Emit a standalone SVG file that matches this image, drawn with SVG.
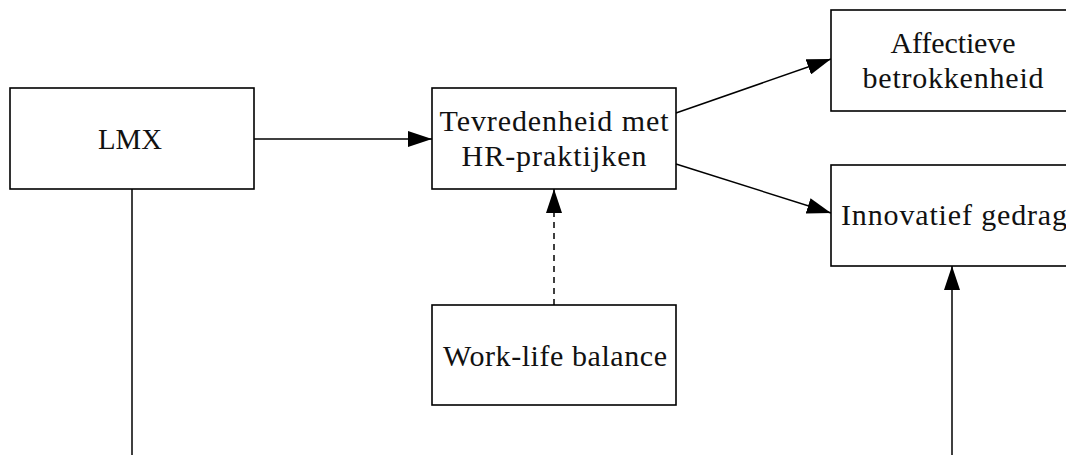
<svg xmlns="http://www.w3.org/2000/svg" width="1066" height="455" viewBox="0 0 1066 455">
<defs>
<style>
.box{fill:#fff;stroke:#000;stroke-width:1.6}
.lbl{font-family:'Liberation Serif','Times New Roman',serif;font-size:30px;fill:#111;text-anchor:middle}
.con{fill:none;stroke:#000;stroke-width:1.5}
.dash{stroke-dasharray:6,5}
</style>
<marker id="ah" markerUnits="userSpaceOnUse" markerWidth="24" markerHeight="16" refX="24" refY="8" orient="auto">
<path d="M0,0 L24,8 L0,16 Z" fill="#000"/>
</marker>
</defs>
<rect width="1066" height="455" fill="#fff"/>
<g id="connectors">
<line class="con" x1="132" y1="189" x2="132" y2="455"/>
<line class="con" x1="254" y1="139" x2="432" y2="139" marker-end="url(#ah)"/>
<line class="con" x1="676" y1="113" x2="831" y2="59" marker-end="url(#ah)"/>
<line class="con" x1="676" y1="164" x2="831" y2="213" marker-end="url(#ah)"/>
<line class="con dash" x1="554" y1="305" x2="554" y2="189" marker-end="url(#ah)"/>
<line class="con" x1="952" y1="455" x2="952" y2="266" marker-end="url(#ah)"/>
</g>
<g id="lmx">
<rect class="box" x="10" y="88" width="244" height="101"/>
<text class="lbl" x="130" y="149" textLength="64" lengthAdjust="spacingAndGlyphs">LMX</text>
</g>
<g id="tevredenheid">
<rect class="box" x="432" y="88" width="244" height="101"/>
<text class="lbl" x="554" y="131" textLength="229" lengthAdjust="spacing">Tevredenheid met</text>
<text class="lbl" x="554" y="166" textLength="185" lengthAdjust="spacing">HR-praktijken</text>
</g>
<g id="worklife">
<rect class="box" x="432" y="305" width="244" height="100"/>
<text class="lbl" x="555" y="366" textLength="224" lengthAdjust="spacing">Work-life balance</text>
</g>
<g id="affectieve">
<rect class="box" x="831" y="10" width="244" height="101"/>
<text class="lbl" x="953" y="53" textLength="125" lengthAdjust="spacing">Affectieve</text>
<text class="lbl" x="953" y="88" textLength="181" lengthAdjust="spacing">betrokkenheid</text>
</g>
<g id="innovatief">
<rect class="box" x="831" y="165" width="244" height="101"/>
<text class="lbl" x="954" y="225" textLength="226" lengthAdjust="spacing">Innovatief gedrag</text>
</g>
</svg>
